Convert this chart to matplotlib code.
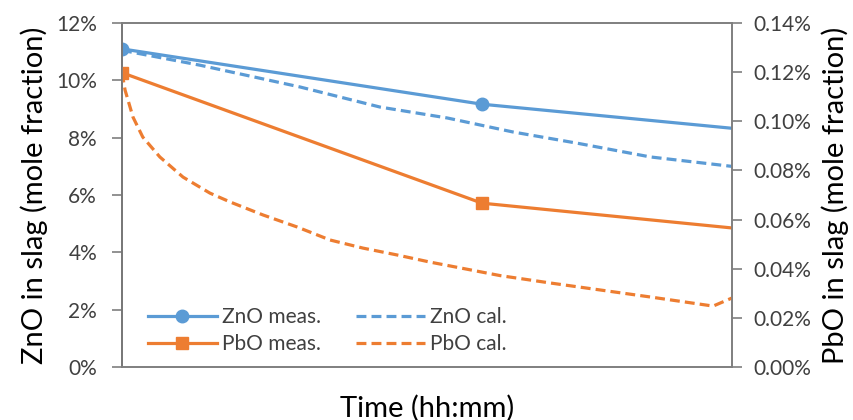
import matplotlib.pyplot as plt
from matplotlib.ticker import FuncFormatter

plt.rcParams['font.family'] = ['Lato', 'DejaVu Sans']

# time axis (minutes, no tick labels shown on the chart)
t_meas = [0, 59, 100]
zno_meas = [11.1, 9.17, 8.33]
pbo_meas = [0.1198, 0.0667, 0.0566]

t_zno_cal = [0, 12.8, 29.2, 42.3, 53.3, 64.1, 74.6, 86.6, 100]
zno_cal = [11.05, 10.53, 9.77, 9.07, 8.69, 8.20, 7.81, 7.33, 7.0]

t_pbo_cal = [0, 0.5, 1.8, 3.4, 6.2, 10.0, 14.4, 17.7, 23.1, 28.7, 34.1, 39.5, 45.1, 50.5,
             62.0, 70.2, 86.6, 96.9, 100]
pbo_cal = [0.1198, 0.1127, 0.1017, 0.0936, 0.0855, 0.0773, 0.0708, 0.0672, 0.0619, 0.0570,
           0.0517, 0.0484, 0.0456, 0.0427, 0.0372, 0.0342, 0.0285, 0.0248, 0.0281]

blue = '#5B9BD5'
orange = '#ED7D31'

fig = plt.figure(figsize=(8.54, 4.2), dpi=100)
ax = fig.add_axes([0.1429, 0.1262, 0.7143, 0.8188])
ax2 = ax.twinx()

dash = (0, (3.1, 1.6))
l1, = ax.plot(t_meas, zno_meas, color=blue, lw=2.3, marker='o', ms=9, markevery=[0, 1], label='ZnO meas.')
l2, = ax.plot(t_zno_cal, zno_cal, color=blue, lw=2.3, ls=dash, label='ZnO cal.')
l3, = ax2.plot(t_meas, pbo_meas, color=orange, lw=2.3, marker='s', ms=9, markevery=[0, 1], label='PbO meas.')
l4, = ax2.plot(t_pbo_cal, pbo_cal, color=orange, lw=2.3, ls=dash, label='PbO cal.')

ax.set_xlim(0, 100)
ax.set_ylim(0, 12)
ax2.set_ylim(0, 0.14)
ax.set_yticks(range(0, 13, 2))
ax2.set_yticks([0, 0.02, 0.04, 0.06, 0.08, 0.10, 0.12, 0.14])
ax.yaxis.set_major_formatter(FuncFormatter(lambda v, p: '%d%%' % v))
ax2.yaxis.set_major_formatter(FuncFormatter(lambda v, p: '%.2f%%' % v))
ax.set_xticks([])

for a in (ax, ax2):
    for s in a.spines.values():
        s.set_color('#7f7f7f')
        s.set_linewidth(1.2)
    a.tick_params(axis='y', length=7, width=1.2, color='#7f7f7f', labelsize=15, labelcolor='#404040')
ax.tick_params(axis='y', pad=11)
ax2.tick_params(axis='y', pad=8)
ax.spines['left'].set_color('#404040')

ax.set_ylabel('ZnO in slag (mole fraction)', fontsize=21, labelpad=6)
ax2.set_ylabel('PbO in slag (mole fraction)', fontsize=21, labelpad=8)
ax.set_xlabel('Time (hh:mm)', fontsize=21, labelpad=20)

ax2.legend(handles=[l1, l3, l2, l4], ncol=2, loc='lower left', bbox_to_anchor=(0.012, -0.017),
           frameon=False, fontsize=15, handlelength=3.3, handletextpad=0.25,
           columnspacing=1.7, labelspacing=0.35, labelcolor='#404040')

fig.savefig('out.png', dpi=100)
